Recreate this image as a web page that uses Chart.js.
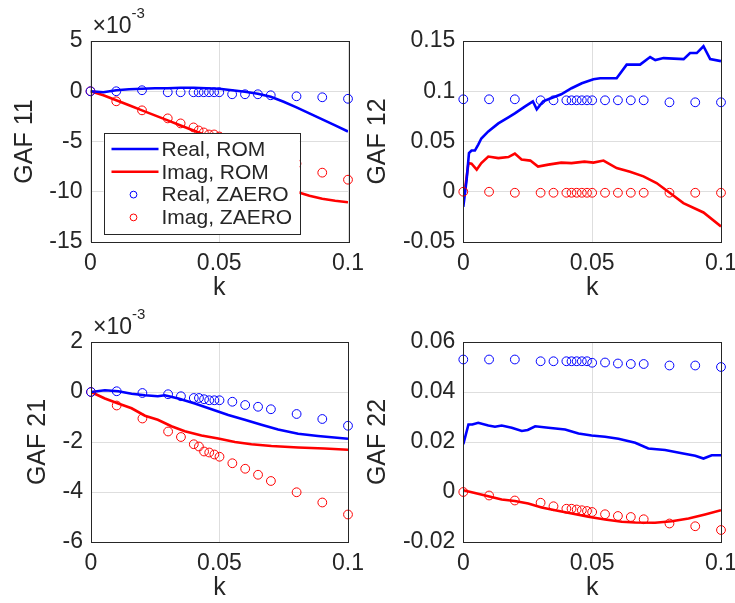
<!DOCTYPE html>
<html>
<head>
<meta charset="utf-8">
<script src="https://cdn.jsdelivr.net/npm/chart.js@4.4.0/dist/chart.umd.min.js"></script>
<style>
  body { margin: 0; background: #fff; width: 735px; height: 603px; position: relative; overflow: hidden; }
  canvas { position: absolute; }
</style>
</head>
<body>
<canvas id="c11" width="365" height="303" style="left:0px;top:0px;width:365px;height:303px"></canvas>
<canvas id="c12" width="375" height="303" style="left:360px;top:0px;width:375px;height:303px"></canvas>
<canvas id="c21" width="365" height="303" style="left:0px;top:300px;width:365px;height:303px"></canvas>
<canvas id="c22" width="375" height="303" style="left:360px;top:300px;width:375px;height:303px"></canvas>
<script>
// ---- data ----
var kZaero = [0, 0.01, 0.02, 0.03, 0.035, 0.04, 0.042, 0.044, 0.046, 0.048, 0.05, 0.055, 0.06, 0.065, 0.07, 0.08, 0.09, 0.1];

var xTicks = [0, 0.05, 0.1];
var xTickLabels = ['0', '0.05', '0.1'];

// GAF 11 (x 1e-3)
var yTicks11 = [-15, -10, -5, 0, 5];
var yTickLabels11 = ['-15', '-10', '-5', '0', '5'];
var kRom11 = [0, 0.005, 0.01, 0.015, 0.02, 0.025, 0.03, 0.035, 0.04, 0.045, 0.05, 0.055, 0.06, 0.065, 0.07, 0.075, 0.08, 0.085, 0.09, 0.095, 0.1];
var realRom11 = [0, -0.1, 0.1, 0.2, 0.25, 0.3, 0.3, 0.35, 0.35, 0.3, 0.25, 0.1, -0.05, -0.25, -0.55, -1.05, -1.6, -2.2, -2.8, -3.4, -4.0];
var imagRom11 = [0, -0.4, -0.9, -1.4, -1.9, -2.4, -2.9, -3.4, -3.9, -4.4, -5.0, -5.8, -6.7, -7.6, -8.5, -9.4, -10.0, -10.4, -10.7, -10.9, -11.05];
var realZaero11 = [0, 0, 0.1, -0.1, -0.1, -0.1, -0.1, -0.1, -0.1, -0.1, -0.1, -0.3, -0.3, -0.3, -0.4, -0.5, -0.6, -0.75];
var imagZaero11 = [0, -1.0, -1.9, -2.7, -3.2, -3.6, -3.9, -4.1, -4.3, -4.3, -4.5, -5.0, -5.6, -6.1, -6.6, -7.2, -8.1, -8.8];

// GAF 12
var yTicks12 = [-0.05, 0, 0.05, 0.1, 0.15];
var yTickLabels12 = ['-0.05', '0', '0.05', '0.1', '0.15'];
var kRealRom12 = [0, 0.0013, 0.0022, 0.0032, 0.0045, 0.0058, 0.007, 0.0097, 0.0136, 0.0175, 0.02, 0.024, 0.027, 0.0285, 0.031, 0.034, 0.038, 0.042, 0.046, 0.0505, 0.0531, 0.0595, 0.0634, 0.0686, 0.0725, 0.0745, 0.0777, 0.0855, 0.088, 0.0906, 0.0932, 0.0958, 0.1];
var realRom12 = [-0.015, 0.012, 0.0385, 0.041, 0.041, 0.047, 0.053, 0.060, 0.068, 0.074, 0.078, 0.085, 0.090, 0.082, 0.090, 0.093, 0.097, 0.103, 0.108, 0.112, 0.113, 0.113, 0.1265, 0.1265, 0.134, 0.131, 0.133, 0.132, 0.138, 0.138, 0.1448, 0.132, 0.130];
var kImagRom12 = [0, 0.0008, 0.002, 0.0032, 0.0052, 0.007, 0.0097, 0.0136, 0.0175, 0.02, 0.0226, 0.026, 0.029, 0.033, 0.038, 0.042, 0.047, 0.0505, 0.0544, 0.0595, 0.0647, 0.0699, 0.075, 0.0802, 0.0854, 0.0932, 0.1];
var imagRom12 = [-0.008, 0.005, 0.0285, 0.028, 0.022, 0.0285, 0.035, 0.0335, 0.0345, 0.038, 0.032, 0.031, 0.025, 0.027, 0.029, 0.0285, 0.030, 0.029, 0.031, 0.0236, 0.020, 0.0153, 0.0087, -0.0013, -0.0113, -0.0206, -0.0345];
var realZaero12 = [0.092, 0.092, 0.092, 0.091, 0.091, 0.091, 0.091, 0.091, 0.091, 0.091, 0.091, 0.091, 0.091, 0.091, 0.091, 0.089, 0.089, 0.089];
var imagZaero12 = [0, 0, -0.001, -0.001, -0.001, -0.001, -0.001, -0.001, -0.001, -0.001, -0.001, -0.001, -0.001, -0.001, -0.001, -0.001, -0.001, -0.001];

// GAF 21 (x 1e-3)
var yTicks21 = [-6, -4, -2, 0, 2];
var yTickLabels21 = ['-6', '-4', '-2', '0', '2'];
var kRealRom21 = [0, 0.0054, 0.0106, 0.0158, 0.021, 0.026, 0.0287, 0.034, 0.0404, 0.0469, 0.0534, 0.0598, 0.0663, 0.0728, 0.0806, 0.0883, 0.1];
var realRom21 = [0, 0.07, 0.03, -0.07, -0.13, -0.17, -0.13, -0.26, -0.46, -0.69, -0.92, -1.11, -1.31, -1.5, -1.67, -1.76, -1.87];
var kImagRom21 = [0, 0.0054, 0.0106, 0.0158, 0.021, 0.026, 0.0313, 0.0365, 0.043, 0.0495, 0.056, 0.0624, 0.0702, 0.0806, 0.0909, 0.1];
var imagRom21 = [0, -0.26, -0.46, -0.65, -0.95, -1.11, -1.37, -1.57, -1.74, -1.86, -2.0, -2.09, -2.16, -2.22, -2.26, -2.31];
var realZaero21 = [0, 0.03, -0.04, -0.09, -0.17, -0.24, -0.24, -0.29, -0.33, -0.33, -0.33, -0.39, -0.52, -0.59, -0.69, -0.88, -1.08, -1.35];
var imagZaero21 = [0, -0.54, -1.06, -1.58, -1.8, -2.09, -2.18, -2.38, -2.42, -2.5, -2.59, -2.85, -3.07, -3.31, -3.56, -4.01, -4.42, -4.9];

// GAF 22
var yTicks22 = [-0.02, 0, 0.02, 0.04, 0.06];
var yTickLabels22 = ['-0.02', '0', '0.02', '0.04', '0.06'];
var kRealRom22 = [0, 0.002, 0.0035, 0.0058, 0.0097, 0.0123, 0.0149, 0.0188, 0.0227, 0.025, 0.0279, 0.033, 0.0395, 0.0447, 0.0498, 0.055, 0.0602, 0.0667, 0.0718, 0.0783, 0.0848, 0.09, 0.0932, 0.0964, 0.1];
var realRom22 = [0.0191, 0.027, 0.027, 0.0277, 0.0266, 0.0261, 0.0266, 0.0257, 0.0244, 0.0248, 0.0263, 0.0257, 0.025, 0.0234, 0.0226, 0.0221, 0.0213, 0.0197, 0.0174, 0.0168, 0.0155, 0.0145, 0.0134, 0.0147, 0.0147];
var kImagRom22 = [0, 0.0045, 0.0097, 0.0149, 0.02, 0.0252, 0.0304, 0.0356, 0.0421, 0.0485, 0.055, 0.0615, 0.0667, 0.0744, 0.0809, 0.0874, 0.0938, 0.1];
var imagRom22 = [0.0007, -0.0004, -0.0017, -0.003, -0.0036, -0.0046, -0.0062, -0.0073, -0.0086, -0.0099, -0.011, -0.0119, -0.0122, -0.0123, -0.0117, -0.0106, -0.009, -0.0073];
var realZaero22 = [0.053, 0.053, 0.053, 0.0523, 0.0523, 0.0523, 0.0523, 0.0523, 0.0523, 0.0523, 0.0517, 0.0518, 0.0514, 0.0512, 0.0512, 0.0506, 0.0506, 0.05];
var imagZaero22 = [0, -0.0014, -0.0034, -0.0043, -0.0057, -0.0067, -0.0067, -0.007, -0.0073, -0.0076, -0.008, -0.0089, -0.0096, -0.01, -0.0109, -0.0126, -0.0137, -0.0152];

var labels = ['Real, ROM', 'Imag, ROM', 'Real, ZAERO', 'Imag, ZAERO'];

var FONT = "'Liberation Sans', Arial, Helvetica, sans-serif";
var INK = '#262626';
var BLUE = '#0000ff';
var RED = '#ff0000';

function pts(ks, vs) {
  return ks.map(function (k, i) { return { x: k, y: vs[i] }; });
}

function romSet(label, ks, vs, color) {
  return { label: label, data: pts(ks, vs), showLine: true, borderColor: color, borderWidth: 2.6,
           pointRadius: 0, pointHoverRadius: 0, order: 2 };
}
function zaeroSet(label, ks, vs, color) {
  return { label: label, data: pts(ks, vs), showLine: false, borderColor: color, backgroundColor: 'rgba(0,0,0,0)',
           borderWidth: 1, pointRadius: 4.4, pointStyle: 'circle', clip: false, order: 1 };
}

// frame, exponent label and the in-plot legend
var extras = {
  id: 'extras',
  afterDraw: function (chart, args, opts) {
    var ctx = chart.ctx, a = chart.chartArea;
    ctx.save();
    ctx.strokeStyle = INK;
    ctx.lineWidth = 1;
    ctx.strokeRect(Math.round(a.left) + 0.5, Math.round(a.top) + 0.5, Math.round(a.right - a.left), Math.round(a.bottom - a.top));

    if (opts.exponent) {
      ctx.fillStyle = INK;
      ctx.textBaseline = 'alphabetic';
      ctx.textAlign = 'left';
      ctx.font = '23px ' + FONT;
      ctx.fillText('\u00d710', a.left + 2, a.top - 8);
      var w = ctx.measureText('\u00d710').width;
      ctx.font = '15px ' + FONT;
      ctx.fillText('-3', a.left + 2 + w, a.top - 23);
    }

    if (opts.legend) {
      var L = opts.legend;
      var x0 = a.left + L.dx, y0 = a.top + L.dy;
      ctx.fillStyle = '#fff';
      ctx.fillRect(x0, y0, L.w, L.h);
      ctx.strokeStyle = INK;
      ctx.lineWidth = 1;
      ctx.strokeRect(Math.round(x0) + 0.5, Math.round(y0) + 0.5, L.w, L.h);
      ctx.font = '21px ' + FONT;
      ctx.textBaseline = 'middle';
      ctx.textAlign = 'left';
      chart.data.datasets.forEach(function (ds, i) {
        var cy = y0 + 16 + i * 22.8;
        if (ds.showLine) {
          ctx.strokeStyle = ds.borderColor;
          ctx.lineWidth = 2.6;
          ctx.beginPath();
          ctx.moveTo(x0 + 8, cy);
          ctx.lineTo(x0 + 55, cy);
          ctx.stroke();
        } else {
          ctx.strokeStyle = ds.borderColor;
          ctx.lineWidth = 1;
          ctx.beginPath();
          ctx.arc(x0 + 30, cy, 3.4, 0, Math.PI * 2);
          ctx.stroke();
        }
        ctx.fillStyle = INK;
        ctx.fillText(ds.label, x0 + 58, cy + 1);
      });
    }
    ctx.restore();
  }
};

function makeChart(id, cfg) {
  var datasets = [
    romSet(labels[0], cfg.kReal, cfg.realRom, BLUE),
    romSet(labels[1], cfg.kImag, cfg.imagRom, RED),
    zaeroSet(labels[2], kZaero, cfg.realZaero, BLUE),
    zaeroSet(labels[3], kZaero, cfg.imagZaero, RED)
  ];
  return new Chart(document.getElementById(id), {
    type: 'scatter',
    data: { datasets: datasets },
    plugins: [extras],
    options: {
      responsive: false,
      animation: false,
      events: [],
      layout: { padding: cfg.padding },
      plugins: {
        legend: { display: false },
        tooltip: { enabled: false },
        extras: { exponent: cfg.exponent, legend: cfg.legend }
      },
      scales: {
        x: {
          type: 'linear', min: 0, max: 0.1,
          afterBuildTicks: function (s) { s.ticks = xTicks.map(function (v) { return { value: v }; }); },
          afterFit: function (s) { s.height = cfg.xHeight; s.paddingLeft = 0; s.paddingRight = 0; },
          ticks: {
            autoSkip: false, maxRotation: 0, padding: 8, color: INK,
            font: { family: FONT, size: 23 },
            callback: function (v, i) { return xTickLabels[i]; }
          },
          grid: { color: '#dedede', drawTicks: false },
          border: { display: false },
          title: { display: true, text: 'k', color: INK, font: { family: FONT, size: 25 }, padding: 0 }
        },
        y: {
          type: 'linear', min: cfg.yTicks[0], max: cfg.yTicks[cfg.yTicks.length - 1],
          afterBuildTicks: function (s) { s.ticks = cfg.yTicks.map(function (v) { return { value: v }; }); },
          afterFit: function (s) { s.width = cfg.yWidth; s.paddingTop = 0; s.paddingBottom = 0; },
          ticks: {
            autoSkip: false, padding: 8, color: INK,
            font: { family: FONT, size: 23 },
            callback: function (v, i) { return cfg.yTickLabels[i]; }
          },
          grid: { color: '#dedede', drawTicks: false },
          border: { display: false },
          title: { display: true, text: cfg.title, color: INK, font: { family: FONT, size: 25 }, padding: 0 }
        }
      }
    }
  });
}

makeChart('c11', {
  title: 'GAF 11', yTicks: yTicks11, yTickLabels: yTickLabels11,
  kReal: kRom11, realRom: realRom11, kImag: kRom11, imagRom: imagRom11,
  realZaero: realZaero11, imagZaero: imagZaero11,
  padding: { left: 10, top: 41, right: 17, bottom: 0 }, yWidth: 80.5, xHeight: 61,
  exponent: true,
  legend: { dx: 13, dy: 92, w: 196, h: 101 }
});

makeChart('c12', {
  title: 'GAF 12', yTicks: yTicks12, yTickLabels: yTickLabels12,
  kReal: kRealRom12, realRom: realRom12, kImag: kImagRom12, imagRom: imagRom12,
  realZaero: realZaero12, imagZaero: imagZaero12,
  padding: { left: 3, top: 41, right: 14, bottom: 0 }, yWidth: 100.3, xHeight: 61
});

makeChart('c21', {
  title: 'GAF 21', yTicks: yTicks21, yTickLabels: yTickLabels21,
  kReal: kRealRom21, realRom: realRom21, kImag: kImagRom21, imagRom: imagRom21,
  realZaero: realZaero21, imagZaero: imagZaero21,
  padding: { left: 23, top: 42, right: 17, bottom: 0 }, yWidth: 68, xHeight: 61,
  exponent: true
});

makeChart('c22', {
  title: 'GAF 22', yTicks: yTicks22, yTickLabels: yTickLabels22,
  kReal: kRealRom22, realRom: realRom22, kImag: kImagRom22, imagRom: imagRom22,
  realZaero: realZaero22, imagZaero: imagZaero22,
  padding: { left: 3, top: 42, right: 14, bottom: 0 }, yWidth: 100.3, xHeight: 61
});
</script>
</body>
</html>
